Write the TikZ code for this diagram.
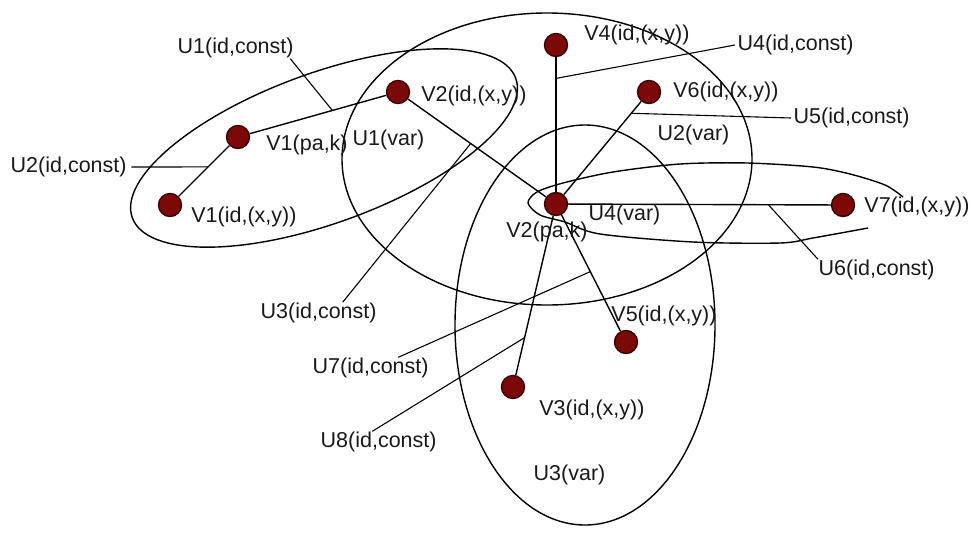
\documentclass[tikz,border=0pt]{standalone}
\usepackage{fontspec}
\setmainfont{Liberation Sans}
\usetikzlibrary{positioning, calc}
\definecolor{dotred}{RGB}{125,8,8}

\begin{document}
\begin{tikzpicture}[x=1pt, y=-1pt, line width=1.4pt,
    vtx/.style={circle, draw=black!55!dotred, fill=dotred, minimum size=23pt, inner sep=0pt},
    lbl/.style={anchor=west, inner sep=0pt, text=black!90, font=\fontsize{21.5}{24}\selectfont}]
    \useasboundingbox (0,0) rectangle (972,533);

    % Group outlines (hand drawn in the original)
    \coordinate (cu1) at (547,159);
    \coordinate (cu2) at (324,148);
    \coordinate (cu3) at (585,325);
    \draw (cu1) ellipse [x radius=205, y radius=146];
    \draw[rotate around={20:(cu2)}] (cu2) ellipse [x radius=204, y radius=75];
    \draw (cu3) ellipse [x radius=130, y radius=200];
    \draw plot[smooth] coordinates {(903,197) (885,185) (850,174) (813,167) (747,163) (680,164) (613,172)
        (563,183) (537,192) (528,203) (540,215) (565,222) (600,234) (693,242) (780,243) (813,238) (868,228)};

    % Define the vertices as dark red dots
    \node[vtx] (v1id) at (170,205) {};
    \node[vtx] (v1pa) at (238,137) {};
    \node[vtx] (v2id) at (398,92) {};
    \node[vtx] (v4) at (556,45) {};
    \node[vtx] (v6) at (649,92) {};
    \node[vtx] (v2pa) at (556,204) {};
    \node[vtx] (v7) at (843,205) {};
    \node[vtx] (v5) at (626,342) {};
    \node[vtx] (v3) at (513,387) {};

    % Edges between the vertices
    \draw (v1id) -- (v1pa);
    \draw (v1pa) -- (v2id);
    \draw (v2id) -- (v2pa);
    \draw (v4) -- (v2pa);
    \draw (v6) -- (v2pa);
    \draw (v2pa) -- (v7);
    \draw (v2pa) -- (v5);
    \draw (v2pa) -- (v3);

    % Vertex labels next to the dots
    \node[lbl, right=8.5pt of v1id, yshift=-12pt] (t-v1id) {V1(id,(x,y))};
    \node[lbl, right=15.5pt of v1pa, yshift=-8pt] (t-v1pa) {V1(pa,k)};
    \node[lbl, right=10.5pt of v2id, yshift=-4pt] (t-v2id) {V2(id,(x,y))};
    \node[lbl, right=15.5pt of v4, yshift=10pt] (t-v4) {V4(id,(x,y))};
    \node[lbl, right=11.5pt of v6] (t-v6) {V6(id,(x,y))};
    \node[lbl, below=5pt of v2pa, xshift=-9pt] (t-v2pa) {V2(pa,k)};
    \node[lbl, right=8.5pt of v7, yshift=-2pt] (t-v7) {V7(id,(x,y))};
    \node[lbl, above=3.5pt of v5, xshift=38pt] (t-v5) {V5(id,(x,y))};
    \node[lbl, right=13.5pt of v3, yshift=-23pt] (t-v3) {V3(id,(x,y))};

    % Group labels
    \node[lbl] (u1v) at (352,140) {U1(var)};
    \node[lbl] (u2v) at (657,135) {U2(var)};
    \node[lbl] (u4v) at (588,215) {U4(var)};
    \node[lbl] (u3v) at (533,475) {U3(var)};

    % Edge labels with their leader lines
    \node[lbl] (u1c) at (177,48) {U1(id,const)};
    \node[lbl] (u2c) at (10,167) {U2(id,const)};
    \node[lbl] (u3c) at (260,313) {U3(id,const)};
    \node[lbl] (u4c) at (737,45) {U4(id,const)};
    \node[lbl] (u5c) at (793,118) {U5(id,const)};
    \node[lbl] (u6c) at (818,270) {U6(id,const)};
    \node[lbl] (u7c) at (312,368) {U7(id,const)};
    \node[lbl] (u8c) at (320,442) {U8(id,const)};

    \coordinate (e1) at ($(v1pa)!0.59!(v2id)$);
    \coordinate (e2) at ($(v1id)!0.56!(v1pa)$);
    \coordinate (e3) at ($(v2id)!0.46!(v2pa)$);
    \coordinate (e4) at ($(v4)!0.21!(v2pa)$);
    \coordinate (e5) at ($(v6)!0.19!(v2pa)$);
    \coordinate (e6) at ($(v2pa)!0.74!(v7)$);
    \coordinate (e7) at ($(v2pa)!0.49!(v5)$);
    \coordinate (e8) at ($(v2pa)!0.73!(v3)$);

    \draw[line width=1.1pt] ([xshift=-4pt]u1c.south east) -- (e1);
    \draw[line width=1.1pt] ([xshift=4pt]u2c.east) -- (e2);
    \draw[line width=1.1pt] ([xshift=24pt]u3c.north) -- (e3);
    \draw[line width=1.1pt] ([xshift=-2pt]u4c.west) -- (e4);
    \draw[line width=1.1pt] ([xshift=-2pt]u5c.west) -- (e5);
    \draw[line width=1.1pt] (u6c.north west) -- (e6);
    \draw[line width=1.1pt] ([xshift=-31pt]u7c.north east) -- (e7);
    \draw[line width=1.1pt] ([xshift=-65pt]u8c.north east) -- (e8);
\end{tikzpicture}
\end{document}
